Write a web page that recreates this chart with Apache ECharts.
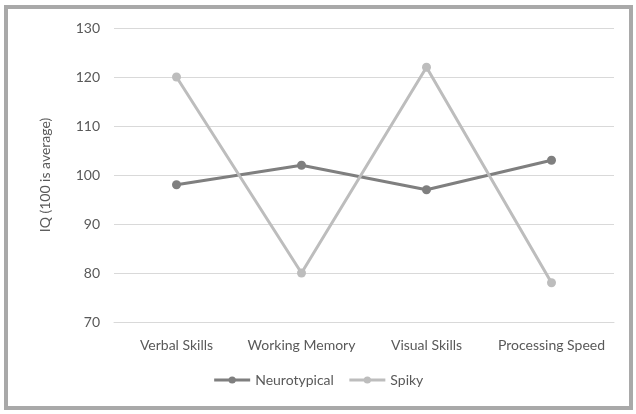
<!DOCTYPE html>
<html>
<head>
<meta charset="utf-8">
<script src="https://cdn.jsdelivr.net/npm/echarts@6/dist/echarts.min.js"></script>
<style>
  html, body { margin: 0; padding: 0; background: #fff; }
  #frame {
    position: absolute; left: 4px; top: 5px; width: 621px; height: 397px;
    border: 4px solid #a9a9a9; background: #fff;
  }
  #main { position: absolute; left: 0; top: 0; width: 636px; height: 414px; }
</style>
</head>
<body>
<div id="frame"></div>
<div id="main"></div>
<script>
var categories = ["Verbal Skills", "Working Memory", "Visual Skills", "Processing Speed"];
var neurotypical = [98, 102, 97, 103];
var spiky = [120, 80, 122, 78];

var chart = echarts.init(document.getElementById("main"));
var textColor = "#595959";
var option = {
    textStyle: { fontFamily: "Lato" },
    grid: { left: 114, right: 22, top: 28, bottom: 92 },
    legend: {
        bottom: 22,
        left: "center",
        itemWidth: 36,
        itemHeight: 9,
        itemGap: 14,
        lineStyle: { width: 3 },
        textStyle: { color: textColor, fontSize: 14, fontFamily: "Lato" },
        data: ["Neurotypical", "Spiky"]
    },
    xAxis: {
        type: "category",
        data: categories,
        boundaryGap: true,
        axisLine: { lineStyle: { color: "#d9d9d9", width: 1 } },
        axisTick: { show: false },
        axisLabel: { color: textColor, fontSize: 14, margin: 16, interval: 0 }
    },
    yAxis: {
        type: "value",
        min: 70,
        max: 130,
        interval: 10,
        name: "IQ (100 is average)",
        nameLocation: "middle",
        nameGap: 62,
        nameTextStyle: { color: textColor, fontSize: 14 },
        axisLine: { show: false },
        axisTick: { show: false },
        axisLabel: { color: textColor, fontSize: 14, margin: 14 },
        splitLine: { lineStyle: { color: "#d9d9d9", width: 1 } }
    },
    series: [
        {
            name: "Neurotypical",
            type: "line",
            data: neurotypical,
            symbol: "circle",
            symbolSize: 9,
            lineStyle: { color: "#7f7f7f", width: 3 },
            itemStyle: { color: "#7f7f7f" }
        },
        {
            name: "Spiky",
            type: "line",
            data: spiky,
            symbol: "circle",
            symbolSize: 9,
            lineStyle: { color: "#bdbdbd", width: 3 },
            itemStyle: { color: "#bdbdbd" }
        }
    ]
};
chart.setOption(option);
</script>
</body>
</html>
